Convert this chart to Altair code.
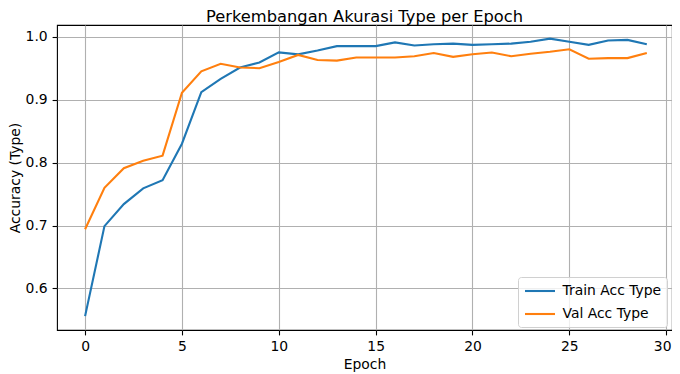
import altair as alt
import pandas as pd

epochs = list(range(30))
train_acc = [0.556, 0.699, 0.734, 0.759, 0.772, 0.830, 0.912, 0.933, 0.951, 0.959,
             0.975, 0.972, 0.978, 0.985, 0.985, 0.985, 0.991, 0.986, 0.988, 0.989,
             0.987, 0.988, 0.989, 0.992, 0.997, 0.992, 0.987, 0.994, 0.995, 0.988]
val_acc = [0.694, 0.760, 0.791, 0.803, 0.811, 0.911, 0.945, 0.957, 0.951, 0.950,
           0.960, 0.971, 0.963, 0.962, 0.967, 0.967, 0.967, 0.969, 0.974, 0.968,
           0.972, 0.975, 0.969, 0.973, 0.976, 0.980, 0.965, 0.966, 0.966, 0.974]
series_names = ["Train Acc Type", "Val Acc Type"]
series_colors = ["#1f77b4", "#ff7f0e"]

rows = []
for e, t, v in zip(epochs, train_acc, val_acc):
    rows.append({"Epoch": e, "Accuracy": t, "Series": series_names[0]})
    rows.append({"Epoch": e, "Accuracy": v, "Series": series_names[1]})
df = pd.DataFrame(rows)

FONT = "DejaVu Sans"

chart = alt.Chart(df).mark_line(strokeWidth=2.1, clip=True).encode(
    x=alt.X("Epoch:Q",
            scale=alt.Scale(domain=[-1.45, 30.3], nice=False, zero=False),
            axis=alt.Axis(values=[0, 5, 10, 15, 20, 25, 30], format="d", title="Epoch",
                          titlePadding=4,
                          labelOffset={"condition": {"test": "datum.value >= 30", "value": -4},
                                       "value": 0})),
    y=alt.Y("Accuracy:Q",
            scale=alt.Scale(domain=[0.534, 1.0186], nice=False, zero=False),
            axis=alt.Axis(values=[0.6, 0.7, 0.8, 0.9, 1.0], format=".1f",
                          title="Accuracy (Type)", titlePadding=3)),
    color=alt.Color("Series:N",
                    scale=alt.Scale(domain=series_names, range=series_colors),
                    sort=series_names,
                    legend=alt.Legend(title=None, orient="none", legendX=461, legendY=252,
                                      symbolType="M-1,0H3.29", symbolSize=196,
                                      symbolStrokeWidth=2.1, labelFontSize=13.9,
                                      labelFont=FONT, labelColor="black",
                                      labelOffset=22, rowPadding=7,
                                      padding=5.5, strokeColor="#d0d0d0",
                                      fillColor="rgba(255,255,255,0.8)",
                                      cornerRadius=3)),
).properties(
    width=615,
    height=305,
    title=alt.TitleParams("Perkembangan Akurasi Type per Epoch", font=FONT,
                          fontSize=16.3, fontWeight="normal", color="black",
                          offset=-0.5),
    autosize=alt.AutoSizeParams(type="none"),
    padding={"left": 49, "top": 17, "right": 0, "bottom": 44},
).configure_view(
    stroke="black", strokeWidth=1.1
).configure_axis(
    labelFont=FONT, titleFont=FONT, labelFontSize=13.9, titleFontSize=13.9,
    labelColor="black", titleColor="black", titleFontWeight="normal",
    grid=True, gridColor="#b0b0b0", gridWidth=1.1,
    domain=False, ticks=True, tickColor="black", tickSize=4.9, tickWidth=1.1,
    labelPadding=4.9,
)

chart.save("out.html", embed_options={"renderer": "svg", "actions": False})
